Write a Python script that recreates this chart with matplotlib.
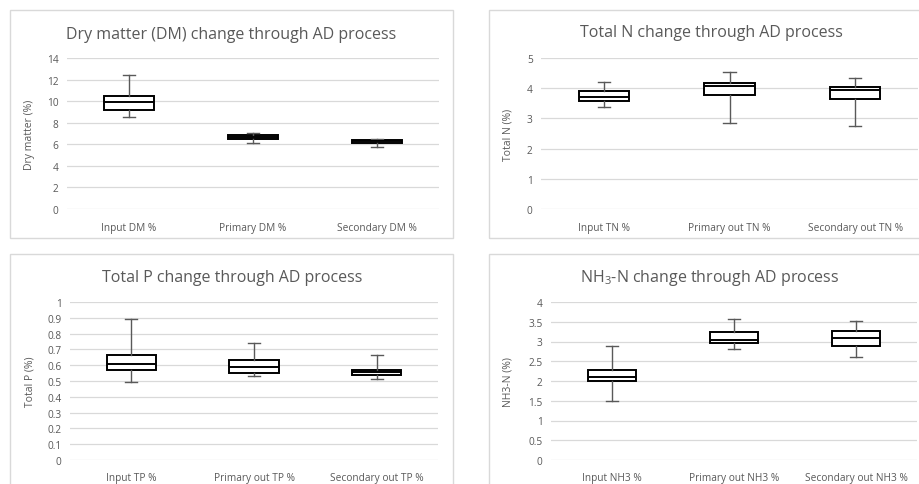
import matplotlib
matplotlib.use('Agg')
import matplotlib.pyplot as plt
from matplotlib.patches import Rectangle

plt.rcParams['font.family'] = ['Open Sans', 'DejaVu Sans']
plt.rcParams['mathtext.fontset'] = 'custom'
plt.rcParams['mathtext.rm'] = 'Open Sans'
plt.rcParams['mathtext.it'] = 'Open Sans:italic'

# box stats per panel: whisker low, q1, median, q3, whisker high
dm_labels = ['Input DM %', 'Primary DM %', 'Secondary DM %']
dm_stats = [[8.5, 9.18, 9.89, 10.45, 12.42],
            [6.12, 6.52, 6.70, 6.89, 7.01],
            [5.78, 6.12, 6.27, 6.40, 6.46]]

tn_labels = ['Input TN %', 'Primary out TN %', 'Secondary out TN %']
tn_stats = [[3.39, 3.59, 3.70, 3.92, 4.19],
            [2.85, 3.79, 4.06, 4.17, 4.55],
            [2.75, 3.64, 3.95, 4.04, 4.33]]

tp_labels = ['Input TP %', 'Primary out TP %', 'Secondary out TP %']
tp_stats = [[0.493, 0.571, 0.607, 0.666, 0.894],
            [0.531, 0.550, 0.590, 0.630, 0.742],
            [0.512, 0.541, 0.558, 0.571, 0.662]]

nh_labels = ['Input NH3 %', 'Primary out NH3 %', 'Secondary out NH3 %']
nh_stats = [[1.49, 2.01, 2.10, 2.29, 2.88],
            [2.82, 2.96, 3.04, 3.23, 3.56],
            [2.62, 2.89, 3.09, 3.26, 3.52]]

W, H = 919, 485
fig = plt.figure(figsize=(W / 100, H / 100), dpi=100)
TXT = '#595959'
GRID = '#d9d9d9'


def px_rect(x0, y0, x1, y1):
    return [x0 / W, 1 - y1 / H, (x1 - x0) / W, (y1 - y0) / H]


# chart borders (Excel chart areas, some cut off by the image edge)
for x0, y0, x1, y1 in [(10, 11, 453, 239), (489, 11, 930, 239),
                       (10, 255, 453, 500), (489, 255, 930, 500)]:
    fig.patches.append(Rectangle((x0 / W, 1 - y1 / H), (x1 - x0) / W, (y1 - y0) / H,
                                 transform=fig.transFigure, fill=False,
                                 edgecolor=GRID, lw=1.0))

panels = [
    (px_rect(67, 59, 439, 210), dm_labels, dm_stats,
     'Dry matter (DM) change through AD process', 'Dry matter (%)', 14, 2, '{:.0f}', 35, (231, 35)),
    (px_rect(541, 59, 918, 210), tn_labels, tn_stats,
     'Total N change through AD process', 'Total N (%)', 5, 1, '{:.0f}', 513, (711, 33)),
    (px_rect(70, 303, 438, 461), tp_labels, tp_stats,
     'Total P change through AD process', 'Total P (%)', 1, 0.1, '{:g}', 35, (232, 278)),
    (px_rect(551, 303, 917, 461), nh_labels, nh_stats,
     r'NH$_3$-N change through AD process', 'NH3-N (%)', 4, 0.5, '{:g}', 513, (710, 278)),
]

for rect, labels, stats, title, ylabel, ymax, step, fmt, ylx, tpos in panels:
    ax = fig.add_axes(rect)
    bxp = []
    for lab, s in zip(labels, stats):
        bxp.append(dict(label=lab, whislo=s[0], q1=s[1], med=s[2], q3=s[3],
                        whishi=s[4], fliers=[]))
    ax.bxp(bxp, positions=range(3), widths=0.4, capwidths=0.1,
           showfliers=False, patch_artist=True,
           boxprops=dict(facecolor='white', edgecolor='black', lw=1.4),
           medianprops=dict(color='black', lw=1.4),
           whiskerprops=dict(color=TXT, lw=1.0),
           capprops=dict(color=TXT, lw=1.0), zorder=3)
    ax.set_xlim(-0.5, 2.5)
    ax.set_ylim(0, ymax)
    n = int(round(ymax / step))
    ticks = [i * step for i in range(n + 1)]
    ax.set_yticks(ticks)
    ax.set_yticklabels([fmt.format(round(t, 2)) for t in ticks])
    ax.yaxis.grid(True, color=GRID, lw=0.9)
    ax.set_axisbelow(True)
    for sp in ax.spines.values():
        sp.set_visible(False)
    ax.tick_params(length=0, labelsize=7.3, labelcolor=TXT, pad=6)
    ax.tick_params(axis='x', pad=9)
    fig.text(tpos[0] / W, 1 - tpos[1] / H, title, fontsize=11.5, color=TXT,
             ha='center', va='center')
    ax.set_ylabel(ylabel, fontsize=7.5, color=TXT)
    ax.yaxis.set_label_coords((ylx / W - rect[0]) / rect[2], 0.5)

fig.savefig('out.png', dpi=100)
